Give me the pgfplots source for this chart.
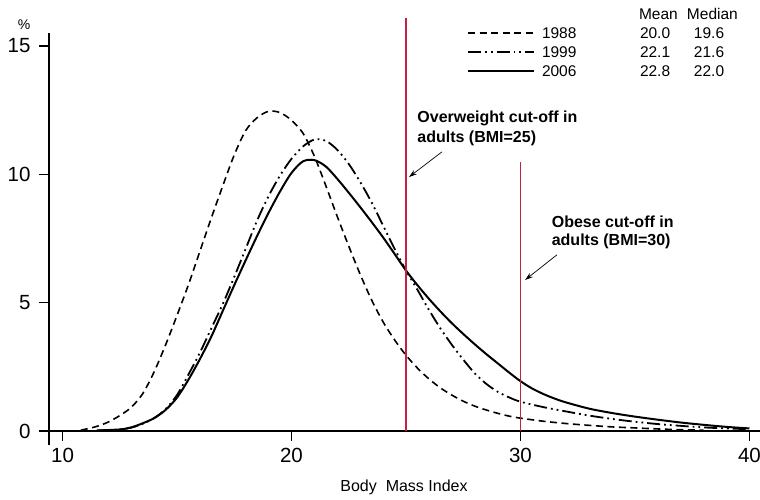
\documentclass[border=0pt]{standalone}
\usepackage{fontspec}
\setmainfont{Liberation Sans}
\usepackage{pgfplots}
\pgfplotsset{compat=1.18}
\usepackage{pgfplotstable}
\usetikzlibrary{arrows.meta}
\definecolor{cutred}{RGB}{200,30,70}

\pgfplotstableread{
x y
10.8 0.03
11.5 0.18
12.0 0.35
12.5 0.6
13.0 0.92
13.5 1.45
14.0 2.3
14.5 3.35
15.0 4.5
15.5 5.7
16.0 7.0
16.5 8.3
17.0 9.55
17.5 10.75
18.0 11.7
18.5 12.2
19.0 12.45
19.5 12.4
20.0 12.1
20.5 11.6
21.0 10.7
21.5 9.55
22.0 8.35
22.5 7.2
23.0 6.1
23.5 5.1
24.0 4.25
24.5 3.55
25.0 2.95
25.5 2.45
26.0 2.03
26.5 1.68
27.0 1.4
27.5 1.16
28.0 0.97
28.5 0.82
29.0 0.69
29.5 0.58
30.0 0.5
31.0 0.38
32.0 0.29
33.0 0.22
34.0 0.16
35.0 0.12
36.0 0.08
37.0 0.05
38.0 0.03
}\dataA

\pgfplotstableread{
x y
11.5 0.02
12.5 0.06
13.0 0.13
13.5 0.28
14.0 0.5
14.5 0.85
15.0 1.4
15.5 2.2
16.0 3.05
16.5 4.0
17.0 4.95
17.5 6.0
18.0 7.1
18.5 8.2
19.0 9.15
19.5 9.95
20.0 10.6
20.5 11.08
21.0 11.35
21.5 11.3
22.0 10.95
22.5 10.4
23.0 9.7
23.5 8.9
24.0 8.0
24.5 7.1
25.0 6.25
25.5 5.5
26.0 4.72
26.5 4.0
27.0 3.36
27.5 2.78
28.0 2.25
28.5 1.84
29.0 1.53
29.5 1.31
30.0 1.14
31.0 0.93
32.0 0.76
33.0 0.6
34.0 0.47
35.0 0.36
36.0 0.27
37.0 0.2
38.0 0.14
39.0 0.1
40.0 0.07
}\dataB

\pgfplotstableread{
x y
11.5 0.02
12.5 0.06
13.0 0.14
13.5 0.3
14.0 0.5
14.5 0.82
15.0 1.3
15.5 2.0
16.0 2.8
16.5 3.68
17.0 4.68
17.5 5.68
18.0 6.65
18.5 7.6
19.0 8.5
19.5 9.33
20.0 10.05
20.5 10.5
21.0 10.55
21.5 10.3
22.0 9.82
22.5 9.28
23.0 8.72
23.5 8.14
24.0 7.54
24.5 6.9
25.0 6.25
25.5 5.68
26.0 5.15
26.5 4.66
27.0 4.2
27.5 3.78
28.0 3.38
28.5 3.0
29.0 2.64
29.5 2.28
30.0 1.94
30.5 1.66
31.0 1.44
31.5 1.26
32.0 1.11
33.0 0.87
34.0 0.7
35.0 0.56
36.0 0.44
37.0 0.33
38.0 0.24
39.0 0.16
40.0 0.1
}\dataC

\begin{document}
\begin{tikzpicture}
\begin{axis}[
  scale only axis, width=711pt, height=412pt,
  xmin=9.41, xmax=40.46, ymin=-0.545, ymax=15.5,
  axis x line=middle, axis y line=left,
  axis line style={-, line width=1.4pt},
  xtick={10,20,30,40}, ytick={0,5,10,15},
  hide obscured x ticks=false, hide obscured y ticks=false,
  tick align=outside, major tick length=10pt,
  tick style={line width=1.4pt, black},
  ticklabel style={font=\fontsize{20.5}{24}\selectfont},
  xticklabel style={yshift=-4pt},
  yticklabel style={xshift=-5pt},
  /pgf/number format/assume math mode=true,
  clip=false,
  xlabel={Body\ \ Mass Index},
  xlabel style={at={(axis description cs:0.4993,-0.1117)}, anchor=base, font=\fontsize{16}{19}\selectfont},
  ylabel={\%},
  ylabel style={rotate=-90, at={(axis description cs:-0.0352,1.008)}, anchor=base, font=\fontsize{14}{16}\selectfont},
  legend image code/.code={\draw[#1] (0pt,0pt) -- (66pt,0pt);},
  legend cell align=left,
  legend style={at={(axis description cs:0.5879,1.0692)}, anchor=north west,
    draw=none, fill=none, inner sep=0pt, outer sep=0pt, row sep=0pt, column sep=7pt,
    nodes={inner sep=0pt, text height=15pt, text depth=4pt, font=\fontsize{15.5}{18}\selectfont}},
]
\addlegendimage{empty legend}
\addlegendentry{\makebox[97pt][l]{}\makebox[48pt][l]{Mean}Median}

\addplot[black, line width=1.6pt, dash pattern=on 7pt off 4.5pt, smooth] table[x=x,y=y] {\dataA};
\addlegendentry{\makebox[98pt][l]{1988}\makebox[54pt][l]{20.0}19.6}
\addplot[black, line width=1.8pt, dash pattern=on 13pt off 4pt on 1.8pt off 4pt on 1.8pt off 4pt, smooth] table[x=x,y=y] {\dataB};
\addlegendentry{\makebox[98pt][l]{1999}\makebox[54pt][l]{22.1}21.6}
\addplot[black, line width=2pt, smooth] table[x=x,y=y] {\dataC};
\addlegendentry{\makebox[98pt][l]{2006}\makebox[54pt][l]{22.8}22.0}

\addplot[cutred, line width=1.6pt, forget plot] coordinates {(25,0) (25,16.09)};
\addplot[cutred, line width=1.6pt, forget plot] coordinates {(30,0) (30,10.48)};

\node[anchor=base west, inner sep=0pt, font=\bfseries\fontsize{16}{19}\selectfont] at (axis cs:25.49,12.0) {Overweight cut-off in};
\node[anchor=base west, inner sep=0pt, font=\bfseries\fontsize{16}{19}\selectfont] at (axis cs:25.49,11.24) {adults (BMI=25)};
\draw[-{Stealth[length=8pt,width=5pt]}, line width=0.7pt] (axis cs:26.57,10.87) -- (axis cs:25.13,9.89);

\node[anchor=base west, inner sep=0pt, font=\bfseries\fontsize{16}{19}\selectfont] at (axis cs:31.36,7.92) {Obese cut-off in};
\node[anchor=base west, inner sep=0pt, font=\bfseries\fontsize{16}{19}\selectfont] at (axis cs:31.36,7.21) {adults (BMI=30)};
\draw[-{Stealth[length=8pt,width=5pt]}, line width=0.7pt] (axis cs:31.59,6.86) -- (axis cs:30.20,5.88);

\coordinate (bbsw) at (axis description cs:-0.06892,-0.1335);
\coordinate (bbne) at (axis description cs:1.0,1.0801);
\end{axis}
\pgfresetboundingbox
\path[use as bounding box] (bbsw) rectangle (bbne);
\end{tikzpicture}
\end{document}
